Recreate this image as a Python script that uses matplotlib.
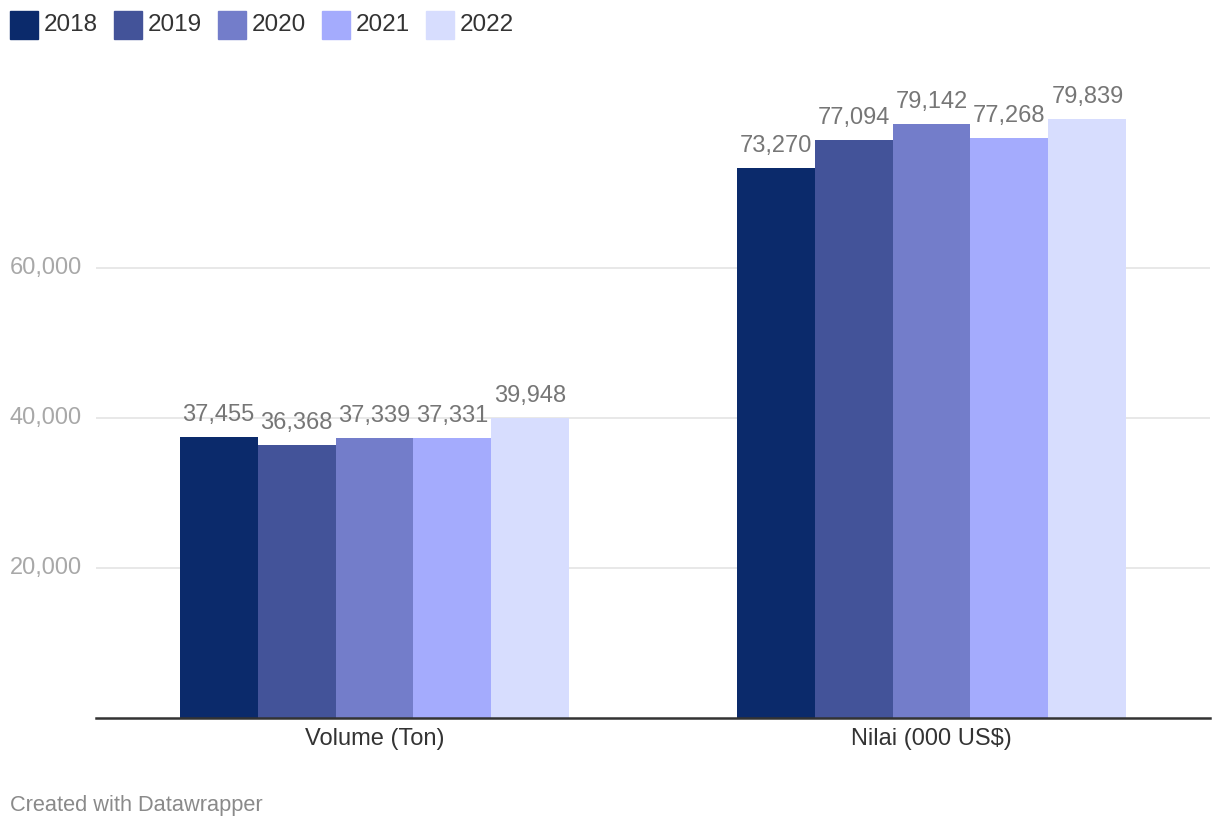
import numpy as np
import matplotlib.pyplot as plt
from matplotlib.patches import Rectangle

plt.rcParams['font.family'] = ['Liberation Sans', 'DejaVu Sans']

categories = ['Volume (Ton)', 'Nilai (000 US$)']
years = ['2018', '2019', '2020', '2021', '2022']
values = {
    '2018': [37455, 73270],
    '2019': [36368, 77094],
    '2020': [37339, 79142],
    '2021': [37331, 77268],
    '2022': [39948, 79839],
}
colors = ['#0b2a6b', '#435399', '#737dca', '#a4abfd', '#d7ddfe']
yticks = [20000, 40000, 60000]

W, H = 1220, 832
fig = plt.figure(figsize=(W / 100, H / 100), dpi=100)
ax = fig.add_axes([96 / W, 1 - 718 / H, (1210 - 96) / W, (718 - 43) / H])

width = 0.14
index = np.arange(len(categories))
for i, (yr, c) in enumerate(zip(years, colors)):
    xs = index + (i - 2) * width
    ax.bar(xs, values[yr], width, color=c, zorder=3)
    for x, v in zip(xs, values[yr]):
        ax.annotate(f'{v:,}', (x, v), xytext=(0, 8), textcoords='offset points',
                    ha='center', va='bottom', fontsize=17, color='#767676', zorder=4)

ax.set_xlim(-0.5, 1.5)
ax.set_ylim(0, 90000)
ax.set_yticks(yticks)
ax.grid(axis='y', color='#e4e4e4', linewidth=1.2, zorder=0)
ax.set_yticklabels([])
ax.tick_params(axis='y', length=0)
for s in ['top', 'right', 'left']:
    ax.spines[s].set_visible(False)
ax.spines['bottom'].set_color('#333333')
ax.spines['bottom'].set_linewidth(1.8)
ax.spines['bottom'].set_zorder(5)
ax.set_xticks(index)
ax.set_xticklabels(categories, fontsize=17, color='#333333')
ax.tick_params(axis='x', length=0, pad=7)

# y tick labels, left aligned at the figure edge
for t in yticks:
    ypix = 718 - t * 675 / 90000
    fig.text(10 / W, 1 - ypix / H, f'{t:,}', ha='left', va='center',
             fontsize=17, color='#a8a8a8')

# legend
x0 = 10
for yr, c in zip(years, colors):
    fig.patches.append(Rectangle((x0 / W, 1 - 39 / H), 28 / W, 28 / H,
                                 transform=fig.transFigure, color=c))
    fig.text((x0 + 34) / W, 1 - 25 / H, yr, ha='left', va='center',
             fontsize=17.5, color='#333333')
    x0 += 104

fig.text(10 / W, 1 - 806 / H, 'Created with Datawrapper', ha='left', va='center',
         fontsize=15.7, color='#8a8a8a')

fig.savefig('out.png', dpi=100)
